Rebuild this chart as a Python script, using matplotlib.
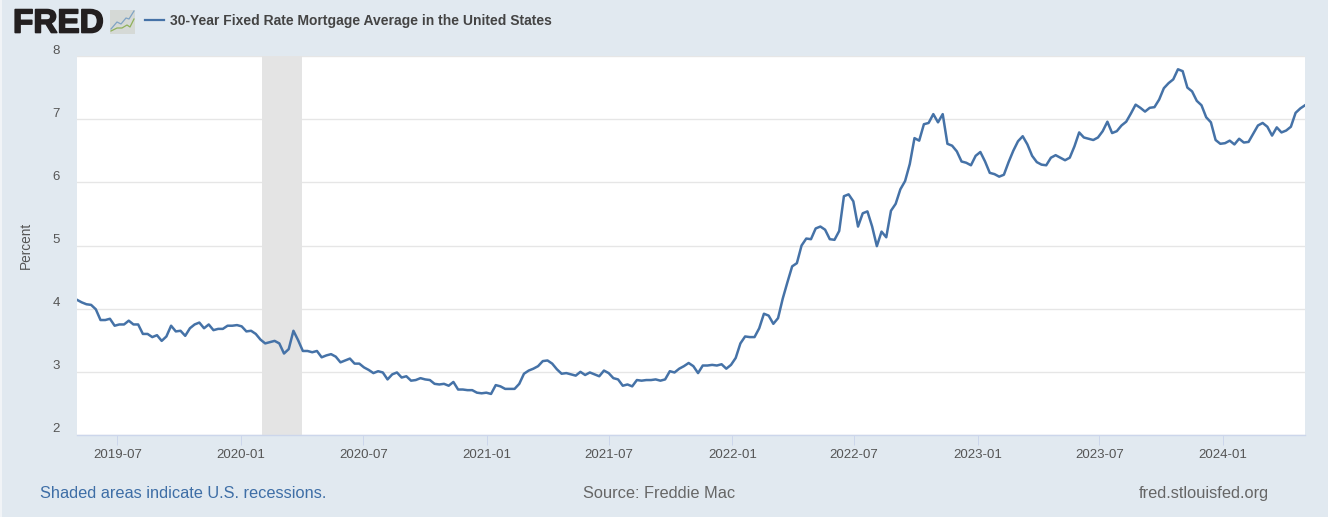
import matplotlib
matplotlib.use("Agg")
import matplotlib.pyplot as plt
import matplotlib.dates as mdates
import matplotlib.patheffects as pe
import numpy as np
import pandas as pd
from matplotlib.transforms import ScaledTranslation
from matplotlib.patches import Rectangle
from matplotlib.lines import Line2D

plt.rcParams['font.family'] = ['Liberation Sans', 'DejaVu Sans']

TITLE = "30-Year Fixed Rate Mortgage Average in the United States"
SERIES_START = "2019-05-02"
rates_2019 = [4.14,4.10,4.07,4.06,3.99,3.82,3.82,3.84,3.73,3.75,3.75,3.81,3.75,3.75,3.60,3.60,3.55,3.58,3.49,3.56,
              3.73,3.64,3.65,3.57,3.69,3.75,3.78,3.69,3.75,3.66,3.68,3.68,3.73,3.73,3.74]
rates_2020 = [3.72,3.64,3.65,3.60,3.51,3.45,3.47,3.49,3.45,3.29,3.36,3.65,3.50,3.33,3.33,3.31,3.33,3.23,3.26,3.28,
              3.24,3.15,3.18,3.21,3.13,3.13,3.07,3.03,2.98,3.01,2.99,2.88,2.96,2.99,2.91,2.93,2.86,2.87,2.90,2.88,
              2.87,2.81,2.80,2.81,2.78,2.84,2.72,2.72,2.71,2.71,2.67,2.66,2.67]
rates_2021 = [2.65,2.79,2.77,2.73,2.73,2.73,2.81,2.97,3.02,3.05,3.09,3.17,3.18,3.13,3.04,2.97,2.98,2.96,2.94,3.00,
              2.95,2.99,2.96,2.93,3.02,2.98,2.90,2.88,2.78,2.80,2.77,2.87,2.86,2.87,2.87,2.88,2.86,2.88,3.01,2.99,
              3.05,3.09,3.14,3.09,2.98,3.10,3.10,3.11,3.10,3.12,3.05,3.11]
rates_2022 = [3.22,3.45,3.56,3.55,3.55,3.69,3.92,3.89,3.76,3.85,4.16,4.42,4.67,4.72,5.00,5.11,5.10,5.27,5.30,5.25,
              5.10,5.09,5.23,5.78,5.81,5.70,5.30,5.51,5.54,5.30,4.99,5.22,5.13,5.55,5.66,5.89,6.02,6.29,6.70,6.66,
              6.92,6.94,7.08,6.95,7.08,6.61,6.58,6.49,6.33,6.31,6.27,6.42]
rates_2023 = [6.48,6.33,6.15,6.13,6.09,6.12,6.32,6.50,6.65,6.73,6.60,6.42,6.32,6.28,6.27,6.39,6.43,6.39,6.35,6.39,
              6.57,6.79,6.71,6.69,6.67,6.71,6.81,6.96,6.78,6.81,6.90,6.96,7.09,7.23,7.18,7.12,7.18,7.19,7.31,7.49,
              7.57,7.63,7.79,7.76,7.50,7.44,7.29,7.22,7.03,6.95,6.67,6.61]
rates_2024 = [6.62,6.66,6.60,6.69,6.63,6.64,6.77,6.90,6.94,6.88,6.74,6.87,6.79,6.82,6.88,7.10,7.17,7.22]
recession_start = "2020-02-01"
recession_end = "2020-04-01"
y_ticks = [2, 3, 4, 5, 6, 7, 8]
x_ticks = ["2019-07-01","2020-01-01","2020-07-01","2021-01-01","2021-07-01","2022-01-01","2022-07-01","2023-01-01","2023-07-01","2024-01-01"]

rates = rates_2019 + rates_2020 + rates_2021 + rates_2022 + rates_2023 + rates_2024
dates = pd.date_range(SERIES_START, periods=len(rates), freq="7D")

W, H = 1328, 517
BG = "#e1e9f0"
fig = plt.figure(figsize=(W/100, H/100), dpi=100, facecolor=BG)
L, R, T, B = 77, 1305, 56, 435
ax = fig.add_axes([L/W, 1-B/H, (R-L)/W, (B-T)/H], facecolor="white")
ax.axvspan(pd.Timestamp(recession_start), pd.Timestamp(recession_end), color="#e4e4e4", lw=0, zorder=1)
ax.plot(dates, rates, color="#4572a7", lw=1.8, solid_joinstyle="round", zorder=3)
ax.set_xlim(dates[0], dates[-1])
ax.set_ylim(2, 8)
ax.set_yticks(y_ticks)
ax.set_xticks(pd.to_datetime(x_ticks))
ax.xaxis.set_major_formatter(mdates.DateFormatter("%Y-%m"))
ax.grid(axis="y", color="#e6e6e6", lw=1, zorder=0)
ax.set_axisbelow(True)
for s in ["top", "left", "right"]:
    ax.spines[s].set_visible(False)
ax.spines["bottom"].set_color("#ccd6eb")
ax.spines["bottom"].set_linewidth(1)
ax.tick_params(axis="x", length=7.2, width=0.72, color="#ccd6eb", labelcolor="#555555", labelsize=9.5, pad=2.8)
ax.tick_params(axis="y", length=0, labelcolor="#555555", labelsize=9.5, pad=12.5)
off = ScaledTranslation(0, 7/100, fig.dpi_scale_trans)
for lab in ax.get_yticklabels():
    lab.set_transform(lab.get_transform() + off)

def tx(x, y, s, **kw):
    return fig.text(x/W, 1-y/H, s, va="center", **kw)

tx(25.5, 245, "Percent", rotation=90, ha="center", color="#555555", fontsize=9.8)
tx(170, 21, TITLE, ha="left", color="#444444", fontsize=10, fontweight="bold")
fig.add_artist(Line2D([145/W, 164/W], [1-20.5/H]*2, color="#4572a7", lw=1.6))
tx(40, 493.5, "Shaded areas indicate U.S. recessions.", ha="left", color="#3e6ea6", fontsize=11.8)
tx(583, 493.5, "Source: Freddie Mac", ha="left", color="#666666", fontsize=11.8)
tx(1269, 493.5, "fred.stlouisfed.org", ha="right", color="#666666", fontsize=11.8)

# logo
tx(13, 24, "FRED", ha="left", color="#231f20", fontsize=24, fontweight="bold",
   path_effects=[pe.withStroke(linewidth=1.2, foreground="#231f20")])
fig.add_artist(Rectangle((110/W, 1-34/H), 25/W, 24/H, transform=fig.transFigure, color="#d5d9d6", lw=0))
fig.add_artist(Line2D(np.array([111,117,121,126,129,134])/W, 1-np.array([29,22,24,18,19,11])/H, color="#7fa3c4", lw=0.9))
fig.add_artist(Line2D(np.array([111,117,122,127,130,134])/W, 1-np.array([31,28,28,25,27,19])/H, color="#8fb15a", lw=0.9))
# pale strip on the left edge
fig.add_artist(Rectangle((0, 0), 1.5/W, 1, transform=fig.transFigure, color="#f1f4f7", lw=0))

fig.savefig("out.png", dpi=100, facecolor=BG)
